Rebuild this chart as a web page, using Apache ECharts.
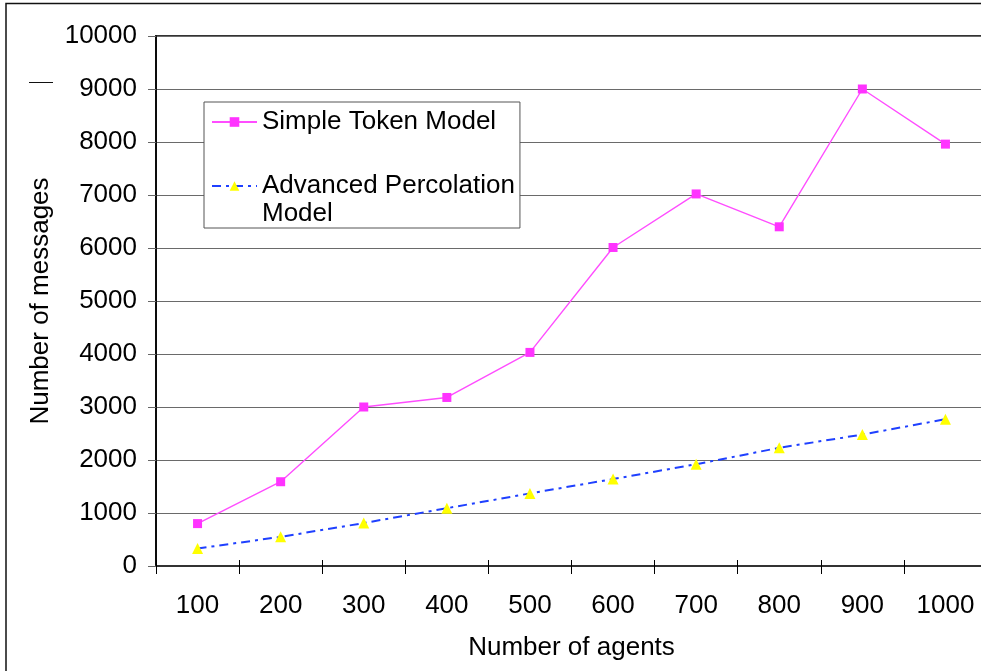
<!DOCTYPE html>
<html>
<head>
<meta charset="utf-8">
<style>
  html, body { margin: 0; padding: 0; background: #fff; }
  #chart { width: 981px; height: 671px; }
</style>
<script src="https://cdn.jsdelivr.net/npm/echarts@6/dist/echarts.min.js"></script>
</head>
<body>
<div id="chart"></div>
<script>
// Number of agents on the x axis
const agents = ['100', '200', '300', '400', '500', '600', '700', '800', '900', '1000'];
// Messages exchanged by each model
const simpleToken = [800, 1590, 3000, 3180, 4030, 6010, 7020, 6400, 9000, 7960];
const advancedPercolation = [330, 550, 810, 1090, 1370, 1640, 1920, 2230, 2480, 2770];
// Value axis range
const yMin = 0;
const yMax = 10000;
const yStep = 1000;

const FONT = "'Liberation Sans', Arial, sans-serif";
const FS = 26;

const chart = echarts.init(document.getElementById('chart'), null, { renderer: 'canvas' });

chart.setOption({
  backgroundColor: '#fff',
  animation: false,
  textStyle: { fontFamily: FONT, color: '#000' },
  graphic: [
    {
      type: 'rect',
      shape: { x: 6, y: 3.5, width: 1000, height: 700 },
      style: { fill: 'none', stroke: '#111', lineWidth: 1.5 },
      silent: true
    },
    {
      type: 'line',
      shape: { x1: 29, y1: 82.5, x2: 53, y2: 82.5 },
      style: { stroke: '#111', lineWidth: 1 },
      silent: true
    }
  ],
  grid: {
    left: 156, top: 36, right: -6, bottom: 105,
    containLabel: false,
    outerBoundsMode: 'none',
    show: true,
    borderColor: '#333',
    borderWidth: 2
  },
  legend: {
    orient: 'vertical',
    left: 204,
    top: 102,
    padding: [6, 5, 0, 7],
    itemGap: 8,
    itemWidth: 45,
    itemHeight: 12,
    backgroundColor: '#fff',
    borderColor: '#555',
    borderWidth: 1,
    borderRadius: 0,
    data: ['Simple Token Model', 'Advanced Percolation Model'],
    formatter: name => name === 'Advanced Percolation Model'
      ? '\nAdvanced Percolation\nModel'
      : name,
    textStyle: { fontFamily: FONT, fontSize: FS, lineHeight: 28, color: '#000' }
  },
  xAxis: [
    {
      type: 'category',
      data: agents,
      boundaryGap: true,
      name: 'Number of agents',
      nameLocation: 'middle',
      nameGap: 69,
      nameTextStyle: { fontFamily: FONT, fontSize: FS, color: '#000' },
      axisLine: { show: true, lineStyle: { color: '#333', width: 2 } },
      axisTick: { show: true, inside: false, length: 8, lineStyle: { color: '#000', width: 1 } },
      axisLabel: { margin: 27, fontFamily: FONT, fontSize: FS, color: '#000' },
      splitLine: { show: false }
    },
    {
      // second bottom axis only supplies the upper half of the crossing ticks
      type: 'category',
      data: agents,
      position: 'bottom',
      boundaryGap: true,
      axisLine: { show: false },
      axisTick: { show: true, inside: true, length: 6, lineStyle: { color: '#000', width: 1 } },
      axisLabel: { show: false },
      splitLine: { show: false }
    }
  ],
  yAxis: {
    type: 'value',
    min: yMin,
    max: yMax,
    interval: yStep,
    name: 'Number of messages',
    nameLocation: 'middle',
    nameGap: 98,
    nameTextStyle: { fontFamily: FONT, fontSize: FS, color: '#000' },
    axisLine: { show: true, lineStyle: { color: '#000', width: 1.5 } },
    axisTick: { show: true, inside: false, length: 8, lineStyle: { color: '#666', width: 1 } },
    axisLabel: {
      margin: 19, fontFamily: FONT, fontSize: FS, color: '#000',
      formatter: v => String(v)
    },
    splitLine: { show: true, lineStyle: { color: '#6a6a6a', width: 1 } }
  },
  series: [
    {
      name: 'Simple Token Model',
      type: 'line',
      data: simpleToken,
      symbol: 'rect',
      symbolSize: 9,
      lineStyle: { color: '#ff4dff', width: 1.4 },
      itemStyle: { color: '#ff33ff' },
      z: 3
    },
    {
      name: 'Advanced Percolation Model',
      type: 'line',
      data: advancedPercolation,
      symbol: 'triangle',
      symbolSize: 11,
      lineStyle: { color: '#1f40ff', width: 2, type: [9, 5, 3, 5] },
      itemStyle: { color: '#ffff00' },
      z: 2
    }
  ]
});
</script>
</body>
</html>
